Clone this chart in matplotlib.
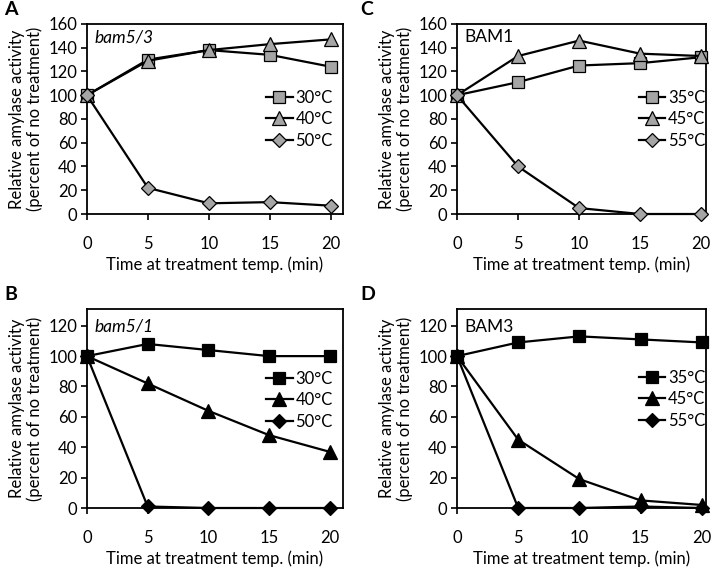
import matplotlib.pyplot as plt

plt.rcParams['font.family'] = ['Lato', 'DejaVu Sans']

# data
times = [0, 5, 10, 15, 20]

# A - bam5/3
a_labels = ["30°C", "40°C", "50°C"]
a_30 = [100, 130, 138, 134, 124]
a_40 = [100, 129, 138, 143, 147]
a_50 = [100, 22, 9, 10, 7]

# B - bam5/1
b_labels = ["30°C", "40°C", "50°C"]
b_30 = [100, 108, 104, 100, 100]
b_40 = [100, 82, 64, 48, 37]
b_50 = [100, 1, 0, 0, 0]

# C - BAM1
c_labels = ["35°C", "45°C", "55°C"]
c_35 = [100, 111, 125, 127, 132]
c_45 = [100, 133, 146, 135, 133]
c_55 = [100, 40, 5, 0, 0]

# D - BAM3
d_labels = ["35°C", "45°C", "55°C"]
d_35 = [100, 109, 113, 111, 109]
d_45 = [100, 45, 19, 5, 2]
d_55 = [100, 0, 0, 1, 0]

fig = plt.figure(figsize=(7.17, 5.69), dpi=100)

FS = 12


def panel(rect, series, labels, fill, xmax, ymax, yticks, title, italic, leg_xy, letter):
    ax = fig.add_axes(rect)
    markers = ["s", "^", "D"]
    sizes = [9, 10, 7]
    for vals, lab, m, s in zip(series, labels, markers, sizes):
        ax.plot(times, vals, color="black", lw=1.6, marker=m, markersize=s,
                markerfacecolor=fill, markeredgecolor="black", markeredgewidth=0.9,
                label=lab, clip_on=False, zorder=3)
    ax.set_xlim(0, xmax)
    ax.set_ylim(0, ymax)
    ax.set_xticks(times)
    ax.set_yticks(yticks)
    ax.tick_params(axis="x", direction="out", length=4, width=1.2, pad=12, labelsize=FS)
    ax.tick_params(axis="y", direction="out", length=4, width=1.2, pad=3, labelsize=FS)
    for sp in ax.spines.values():
        sp.set_linewidth(1.3)
    ax.set_xlabel("Time at treatment temp. (min)", fontsize=FS, labelpad=3)
    ax.set_ylabel("Relative amylase activity\n(percent of no treatment)",
                  fontsize=FS, labelpad=4, linespacing=1.1)
    ax.text(0.028, title[1], title[0], transform=ax.transAxes, fontsize=FS + 0.5,
            style="italic" if italic else "normal", va="center", ha="left")
    ax.legend(loc="upper left", bbox_to_anchor=leg_xy, frameon=False, fontsize=FS,
              handlelength=1.6, handletextpad=0.15, labelspacing=0.33,
              borderpad=0, borderaxespad=0, numpoints=1)
    fig.text(letter[0], letter[1], letter[2], fontsize=14, fontweight="bold",
             va="top", ha="left")
    return ax


grey = "#a5a5a5"
panel([0.1213, 0.6239, 0.357, 0.334], [a_30, a_40, a_50], a_labels, grey,
      21.0, 160, range(0, 161, 20), ("bam5/3", 0.93), True, (0.70, 0.655),
      (0.006, 0.998, "A"))
panel([0.6374, 0.6239, 0.3473, 0.334], [c_35, c_45, c_55], c_labels, grey,
      20.4, 160, range(0, 161, 20), ("BAM1", 0.93), False, (0.73, 0.655),
      (0.503, 0.998, "C"))
panel([0.1213, 0.1072, 0.357, 0.3497], [b_30, b_40, b_50], b_labels, "black",
      21.1, 131, range(0, 121, 20), ("bam5/1", 0.91), True, (0.70, 0.69),
      (0.006, 0.497, "B"))
panel([0.6374, 0.1072, 0.3473, 0.3497], [d_35, d_45, d_55], d_labels, "black",
      20.35, 131, range(0, 121, 20), ("BAM3", 0.91), False, (0.73, 0.695),
      (0.503, 0.497, "D"))

plt.savefig("out.png", dpi=100)
